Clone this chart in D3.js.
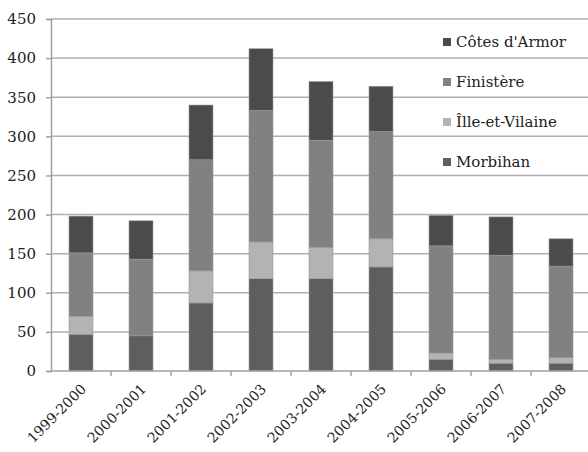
<!DOCTYPE html>
<html>
<head>
<meta charset="utf-8">
<script src="https://cdn.jsdelivr.net/npm/d3@7"></script>
<style>
  body { margin: 0; background: #fff; }
</style>
</head>
<body>
<div id="chart"></div>
<script>
const seasons = ["1999-2000", "2000-2001", "2001-2002", "2002-2003", "2003-2004",
  "2004-2005", "2005-2006", "2006-2007", "2007-2008"];
const departments = ["Morbihan", "Îlle-et-Vilaine", "Finistère", "Côtes d'Armor"];
const morbihan = [47, 45, 87, 118, 118, 133, 15, 10, 10];
const illeEtVilaine = [23, 0, 41, 47, 40, 36, 8, 5, 7];
const finistere = [81, 98, 142, 168, 137, 137, 137, 133, 117];
const cotesArmor = [47, 49, 70, 79, 75, 58, 39, 49, 35];
const yTicks = [0, 50, 100, 150, 200, 250, 300, 350, 400, 450];

const colors = {
  "Morbihan": "#5e5e5e",
  "Îlle-et-Vilaine": "#b3b3b3",
  "Finistère": "#818181",
  "Côtes d'Armor": "#4b4b4b"
};
const FONT = "'DejaVu Serif', 'Liberation Serif', serif";

const W = 588, H = 452;
const margin = { top: 19, right: -3, bottom: 81, left: 51 };
const width = W - margin.left - margin.right;
const height = H - margin.top - margin.bottom;

const rows = seasons.map((s, i) => ({
  season: s,
  "Morbihan": morbihan[i],
  "Îlle-et-Vilaine": illeEtVilaine[i],
  "Finistère": finistere[i],
  "Côtes d'Armor": cotesArmor[i]
}));

const stacked = d3.stack().keys(departments)(rows);

const svg = d3.select("#chart")
  .append("svg")
  .attr("width", W)
  .attr("height", H)
  .style("font-family", FONT);

const chart = svg.append("g")
  .attr("transform", `translate(${margin.left},${margin.top})`);

const xScale = d3.scaleBand()
  .domain(seasons)
  .range([0, width])
  .paddingInner(0.6)
  .paddingOuter(0.3);

const yScale = d3.scaleLinear()
  .domain([0, 450])
  .range([height, 0]);

// gridlines
chart.append("g")
  .selectAll("line")
  .data(yTicks.filter(d => d > 0))
  .join("line")
  .attr("x1", 0)
  .attr("x2", width)
  .attr("y1", d => yScale(d))
  .attr("y2", d => yScale(d))
  .attr("stroke", "#b0b0b0")
  .attr("stroke-width", 1.5);

// bars
chart.append("g")
  .selectAll("g")
  .data(stacked)
  .join("g")
  .attr("fill", d => colors[d.key])
  .selectAll("rect")
  .data(d => d)
  .join("rect")
  .attr("x", d => xScale(d.data.season))
  .attr("width", xScale.bandwidth())
  .attr("y", d => yScale(d[1]))
  .attr("height", d => yScale(d[0]) - yScale(d[1]))
  .attr("stroke", "#9a9a9a")
  .attr("stroke-width", 0.6);

// y axis
const yAxis = chart.append("g")
  .call(d3.axisLeft(yScale).tickValues(yTicks).tickSize(5).tickPadding(10));
yAxis.attr("font-family", null).attr("font-size", null);
yAxis.select(".domain").attr("stroke", "#a0a0a0").attr("stroke-width", 1.5);
yAxis.selectAll(".tick line").attr("stroke", "#a0a0a0").attr("stroke-width", 1.5);
yAxis.selectAll("text")
  .style("font-family", FONT)
  .style("font-size", "15px")
  .attr("fill", "#222");

// x axis with ticks at band boundaries
const xAxisG = chart.append("g")
  .attr("transform", `translate(0,${height})`);
xAxisG.append("line")
  .attr("x1", 0).attr("x2", width)
  .attr("stroke", "#a0a0a0").attr("stroke-width", 1.5);
xAxisG.selectAll(".xt")
  .data(seasons)
  .join("line")
  .attr("class", "xt")
  .attr("x1", d => xScale(d) + xScale.bandwidth() / 2 + xScale.step() / 2)
  .attr("x2", d => xScale(d) + xScale.bandwidth() / 2 + xScale.step() / 2)
  .attr("y1", 0).attr("y2", 5)
  .attr("stroke", "#a0a0a0").attr("stroke-width", 1.5);
xAxisG.selectAll(".xl")
  .data(seasons)
  .join("text")
  .attr("class", "xl")
  .attr("transform", d => `translate(${xScale(d) + xScale.bandwidth() / 2 + 6},${19}) rotate(-45)`)
  .attr("text-anchor", "end")
  .style("font-family", FONT)
  .style("font-size", "14px")
  .attr("fill", "#222")
  .text(d => d);

// legend
const legend = svg.append("g")
  .attr("transform", "translate(443,42)");
const legendItems = legend.selectAll("g")
  .data(departments.slice().reverse())
  .join("g")
  .attr("transform", (d, i) => `translate(0,${i * 40})`);
legendItems.append("rect")
  .attr("x", 0).attr("y", -4)
  .attr("width", 8).attr("height", 8)
  .attr("fill", d => colors[d]);
legendItems.append("text")
  .attr("x", 13).attr("y", 5)
  .style("font-family", FONT)
  .style("font-size", "15px")
  .attr("fill", "#222")
  .text(d => d);
</script>
</body>
</html>
